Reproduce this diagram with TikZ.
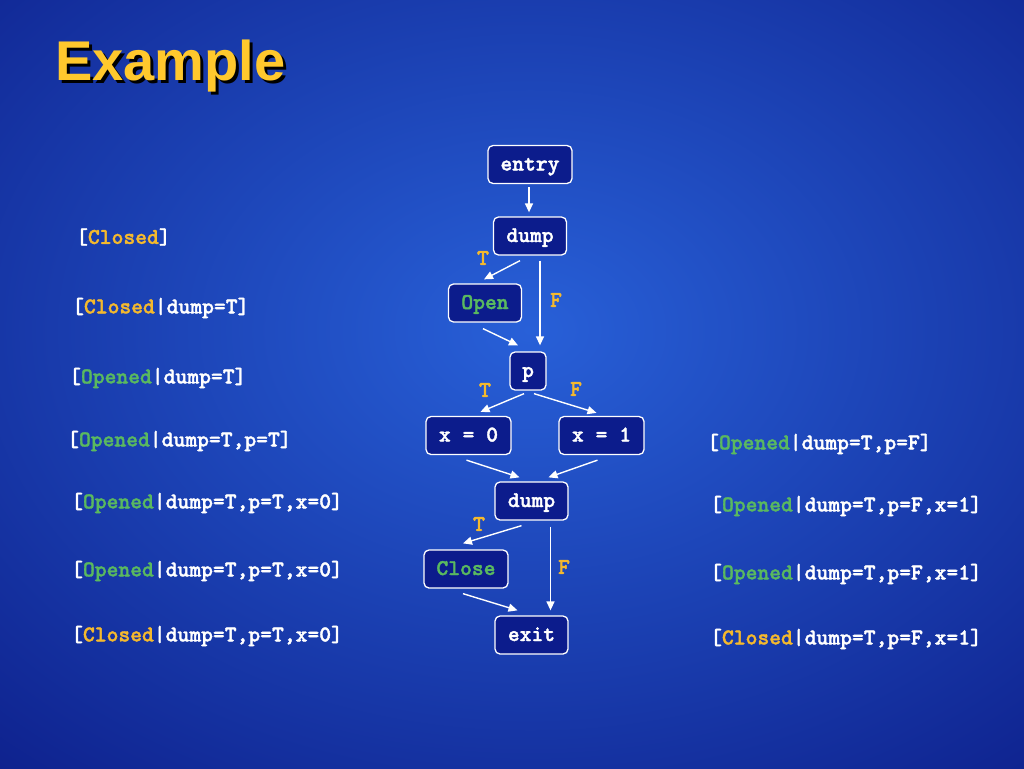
\documentclass[tikz,border=0pt]{standalone}
\usepackage{fontspec}
\newfontfamily\cmono{lmmonolt10-bold}[Extension=.otf, FakeBold=1.6]
\newfontfamily\titlefont{Liberation Sans}
\usetikzlibrary{arrows.meta,calc}
\definecolor{bgdark}{RGB}{12,28,135}
\definecolor{bglight}{RGB}{40,96,216}
\definecolor{boxfill}{RGB}{12,28,140}
\definecolor{kwgreen}{RGB}{90,185,95}
\definecolor{kwgold}{RGB}{245,185,45}
\definecolor{titlegold}{RGB}{255,200,45}
\tikzset{
  cfgbox/.style={draw=white, line width=1.3pt, rounded corners=5pt, fill=boxfill,
    minimum height=38pt, inner sep=0pt, text=white,
    font=\cmono\fontsize{22.5}{26}\selectfont,
    text height=14pt, text depth=2pt},
  flow/.style={draw=white, line width=1.4pt, -{Triangle[length=9pt,width=8pt]}},
  tf/.style={text=kwgold, font=\cmono\fontsize{22.5}{26}\selectfont, inner sep=0pt},
  state/.style={anchor=west, text=white, inner sep=0pt, font=\cmono\fontsize{22.5}{26}\selectfont},
  titlestyle/.style={anchor=base west, inner sep=0pt, font=\titlefont\bfseries\fontsize{56}{60}\selectfont}
}
\newcommand{\Cl}{\textcolor{kwgold}{Closed}}
\newcommand{\Op}{\textcolor{kwgreen}{Opened}}
\begin{document}
\begin{tikzpicture}[x=1pt,y=-1pt]
\useasboundingbox (0,0) rectangle (1024,768);
% background
\fill[bgdark] (-4,-4) rectangle (1028,772);
\shade[inner color=bglight, outer color=bgdark] (530,330) ellipse [x radius=880, y radius=640];
% title
\node[titlestyle, text=black] (titleshadow) at (58,83) {Example};
\node[titlestyle, text=titlegold] (title) at (55,80) {Example};
% nodes
\node[cfgbox, minimum width=84pt] (en) at (530,164.5) {entry};
\node[cfgbox, minimum width=73pt] (d1) at (530,236) {dump};
\node[cfgbox, minimum width=73pt, text=kwgreen] (op) at (485,303) {Open};
\node[cfgbox, minimum width=36pt] (p) at (528,371) {p};
\node[cfgbox, minimum width=85pt] (x0) at (468.5,435.5) {x = 0};
\node[cfgbox, minimum width=85pt] (x1) at (601.5,435.5) {x = 1};
\node[cfgbox, minimum width=73pt] (d2) at (531.5,501) {dump};
\node[cfgbox, minimum width=84pt, text=kwgreen] (cl) at (466,569) {Close};
\node[cfgbox, minimum width=73pt] (ex) at (531.5,635) {exit};
% edges
\draw[flow] ($(en.south)+(-1,3)$) -- ($(d1.north)+(-1,-4)$);
\draw[flow] ($(d1.south)+(-10,5)$) -- ($(op.north)+(-1,-4)$);
\draw[flow] ($(d1.south)+(10,5)$) -- ($(p.north)+(12,-6)$);
\draw[flow] ($(op.south)+(-2,6)$) -- ($(p.north)+(-10,-6)$);
\draw[flow] ($(p.south)+(-4,3)$) -- ($(x0.north)+(12,-4)$);
\draw[flow] ($(p.south)+(6,3)$) -- ($(x1.north)+(-5,-3)$);
\draw[flow] ($(x0.south)+(-2,5)$) -- ($(d2.north)+(-12,-4)$);
\draw[flow] ($(x1.south)+(-4,5)$) -- ($(d2.north)+(17,-4)$);
\draw[flow] ($(d2.south)+(-10,5)$) -- ($(cl.north)+(-3,-6)$);
\draw[flow] ($(d2.south)+(19,6)$) -- ($(ex.north)+(19,-5)$);
\draw[flow] ($(cl.south)+(-3,5)$) -- ($(ex.north)+(-14,-5)$);
% branch labels
\node[tf] (t1) at (483,258) {T};
\node[tf] (f1) at (556,300) {F};
\node[tf] (t2) at (485,390) {T};
\node[tf] (f2) at (576,389) {F};
\node[tf] (t3) at (479,524) {T};
\node[tf] (f3) at (564,567) {F};
% state annotations left
\node[state] (s1) at (76,237) {[\Cl]};
\node[state] (s2) at (72,308) {[\Cl|dump=T]};
\node[state] (s3) at (69,378) {[\Op|dump=T]};
\node[state] (s4) at (67,441) {[\Op|dump=T,p=T]};
\node[state] (s5) at (71,503) {[\Op|dump=T,p=T,x=0]};
\node[state] (s6) at (71,571) {[\Op|dump=T,p=T,x=0]};
\node[state] (s7) at (71,636) {[\Cl|dump=T,p=T,x=0]};
% state annotations right
\node[state] (r1) at (707,444) {[\Op|dump=T,p=F]};
\node[state] (r2) at (710,506) {[\Op|dump=T,p=F,x=1]};
\node[state] (r3) at (710,574) {[\Op|dump=T,p=F,x=1]};
\node[state] (r4) at (710,639) {[\Cl|dump=T,p=F,x=1]};
\end{tikzpicture}
\end{document}
